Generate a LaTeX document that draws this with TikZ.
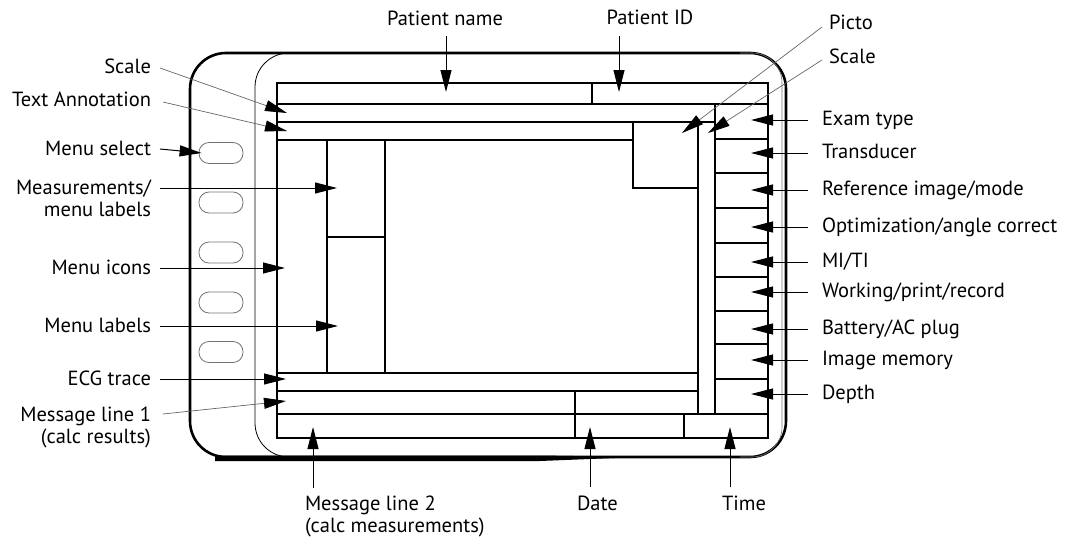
\documentclass[tikz,border=0pt]{standalone}
\usepackage{fontspec}
\setmainfont{PT Sans}
\usetikzlibrary{arrows.meta}
\begin{document}
\begin{tikzpicture}[x=1pt,y=-1pt,
  lbl/.style={inner sep=0pt, outer sep=0pt, font=\fontsize{20.5}{22}\selectfont},
  conn/.style={line width=1pt, -{Triangle[length=22pt,width=11pt]}},
  diag/.style={line width=0.7pt, draw=black!60, -{Triangle[length=22pt,width=11pt,color=black]}},
  scr/.style={line width=2pt},
  cell/.style={line width=1.1pt},
  btn/.style={draw=black!55, line width=0.8pt, rounded corners=10pt, minimum width=44pt, minimum height=21pt, inner sep=0pt},
]
\useasboundingbox (0,0) rectangle (1077,538);

% casing
\draw[line width=2.6pt, rounded corners=36pt] (190,53) rectangle (786,457);
\fill (215,455.5) -- (540,455.5) -- (640,457) -- (540,461) -- (215,461) -- cycle;
\draw[line width=0.8pt, rounded corners=34pt] (300,53) -- (255,53) -- (255,457) -- (300,457);
\draw[line width=0.6pt, draw=black!55, rounded corners=30pt] (740,53) -- (782,53) -- (782,457) -- (740,457);

% buttons
\node[btn] (b1) at (221,153) {};
\node[btn] (b2) at (221,202.5) {};
\node[btn] (b3) at (221,252.5) {};
\node[btn] (b4) at (221,302.5) {};
\node[btn] (b5) at (221,352) {};

% screen
\draw[scr] (277,83) rectangle (768,438);
\draw[cell] (592,83) -- (592,104);
\draw[cell] (277,104) -- (715,104);
\draw[scr] (715,104) rectangle (768,414);
\draw[cell] (277,122) -- (715,122);
\draw[cell] (277,140) -- (633,140);
\draw[cell] (633,122) -- (633,188) -- (698,188);
\draw[cell] (698,122) -- (698,414);
\draw[cell] (327,140) -- (327,373);
\draw[cell] (385,140) -- (385,373);
\draw[cell] (327,237) -- (385,237);
\draw[cell] (277,373) -- (698,373);
\draw[cell] (277,391) -- (698,391);
\draw[cell] (277,414) -- (715,414);
\draw[line width=1.8pt] (575,414) -- (684,414);
\draw[cell] (575,391) -- (575,438);
\draw[cell] (684,414) -- (684,438);
\foreach \y in {139,173,208,243,277,311,344,379} \draw[cell] (715,\y) -- (768,\y);

% targets
\coordinate (tpname) at (446,92);
\coordinate (tpid) at (619,92);
\coordinate (tpicto) at (682,133);
\coordinate (trscale) at (708,133);
\coordinate (tscale) at (287,113);
\coordinate (ttext) at (287,131);
\coordinate (tmeas) at (337,188);
\coordinate (ticons) at (285,268);
\coordinate (tmlab) at (338,326);
\coordinate (tecg) at (286,379);
\coordinate (tmsg1) at (286,401);
\coordinate (tmsg2) at (313,427);
\coordinate (tdate) at (590,427);
\coordinate (ttime) at (730,427);
\coordinate (texam) at (751,120);
\coordinate (ttrans) at (751,153);
\coordinate (tref) at (751,190);
\coordinate (topt) at (751,227);
\coordinate (tmiti) at (751,262);
\coordinate (twork) at (751,292);
\coordinate (tbatt) at (751,329);
\coordinate (timg) at (751,360);
\coordinate (tdepth) at (751,394);

% top labels
\node[lbl, anchor=base] (pname) at (445,25) {Patient name};
\node[lbl, anchor=base] (pid) at (650,24) {Patient ID};
\node[lbl, anchor=base west] (picto) at (829,29) {Picto};
\node[lbl, anchor=base west] (rscale) at (829,63) {Scale};

% left labels
\node[lbl, anchor=base east] (lscale) at (151,73) {Scale};
\node[lbl, anchor=base east] (ltext) at (151,106) {Text Annotation};
\node[lbl, anchor=base east] (lmsel) at (151,155) {Menu select};
\node[lbl, anchor=base east] (lmeas) at (151,194) {\begin{tabular}[t]{@{}r@{}}Measurements/\\menu labels\end{tabular}};
\node[lbl, anchor=base east] (licons) at (151,274) {Menu icons};
\node[lbl, anchor=base east] (lmlab) at (151,332) {Menu labels};
\node[lbl, anchor=base east] (lecg) at (151,385) {ECG trace};
\node[lbl, anchor=base east] (lmsg1) at (151,421) {\begin{tabular}[t]{@{}r@{}}Message line 1\\(calc results)\end{tabular}};

% right labels
\node[lbl, anchor=base west] (lexam) at (822,125.5) {Exam type};
\node[lbl, anchor=base west] (ltrans) at (822,158.5) {Transducer};
\node[lbl, anchor=base west] (lref) at (822,195.5) {Reference image/mode};
\node[lbl, anchor=base west] (lopt) at (822,232.5) {Optimization/angle correct};
\node[lbl, anchor=base west] (lmiti) at (822,267.5) {MI/TI};
\node[lbl, anchor=base west] (lwork) at (822,297.5) {Working/print/record};
\node[lbl, anchor=base west] (lbatt) at (822,334.5) {Battery/AC plug};
\node[lbl, anchor=base west] (limg) at (822,365.5) {Image memory};
\node[lbl, anchor=base west] (ldepth) at (822,399.5) {Depth};

% bottom labels
\node[lbl, anchor=base west] (lmsg2) at (305,510) {\begin{tabular}[t]{@{}l@{}}Message line 2\\(calc measurements)\end{tabular}};
\node[lbl, anchor=base west] (ldate) at (577,510) {Date};
\node[lbl, anchor=base west] (ltime) at (722,510) {Time};

% connectors: top
\draw[conn, shorten <=11pt] (pname.base -| tpname) -- (tpname);
\draw[conn, shorten <=12pt] (pid.base -| tpid) -- (tpid);
\draw[diag] ([xshift=-7pt,yshift=2pt]picto.base west) -- (tpicto);
\draw[diag] ([xshift=-7pt,yshift=3pt]rscale.base west) -- (trscale);

% connectors: left
\draw[diag] ([xshift=9pt,yshift=5pt]lscale.base east) -- (tscale);
\draw[diag] ([xshift=12pt,yshift=4pt]ltext.base east) -- (ttext);
\draw[conn] ([xshift=9pt,yshift=6pt]lmsel.base east) -- ([xshift=3pt]b1.west);
\draw[conn] ([xshift=9pt,yshift=6pt]lmeas.base east) -- (tmeas);
\draw[conn] ([xshift=9pt,yshift=6pt]licons.base east) -- (ticons);
\draw[conn] ([xshift=9pt,yshift=6pt]lmlab.base east) -- (tmlab);
\draw[conn] ([xshift=9pt,yshift=6pt]lecg.base east) -- (tecg);
\draw[diag] ([xshift=12pt,yshift=7pt]lmsg1.base east) -- (tmsg1);

% connectors: right
\foreach \l/\t in {lexam/texam, ltrans/ttrans, lref/tref, lopt/topt, lmiti/tmiti, lwork/twork, lbatt/tbatt, limg/timg, ldepth/tdepth}
  \draw[conn] ([xshift=-14pt,yshift=5.5pt]\l.base west) -- (\t);

% connectors: bottom
\draw[conn, shorten <=7pt] (lmsg2.north -| tmsg2) -- (tmsg2);
\draw[conn, shorten <=8pt] (ldate.north -| tdate) -- (tdate);
\draw[conn, shorten <=8pt] (ltime.north -| ttime) -- (ttime);
\end{tikzpicture}
\end{document}
